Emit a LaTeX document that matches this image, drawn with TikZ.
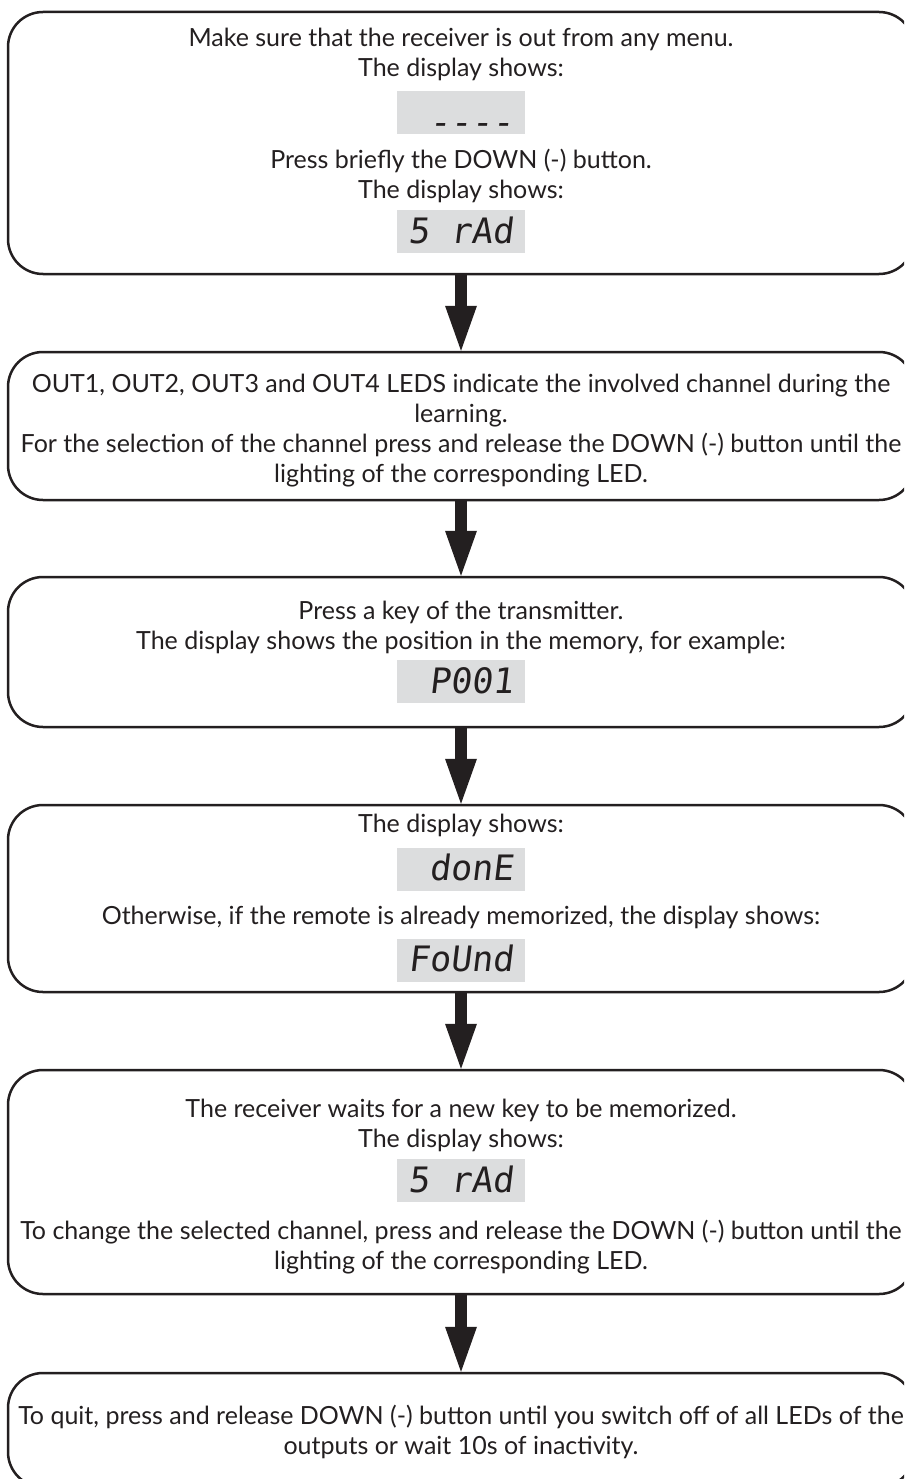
\documentclass[tikz,border=0pt]{standalone}
\usepackage{fontspec}
\setmainfont{Lato}
\newfontfamily\segfont[FakeSlant=0.12]{DejaVu Sans Mono}
\usetikzlibrary{arrows.meta}
\definecolor{ink}{RGB}{35,31,32}
\definecolor{dispgray}{RGB}{220,221,222}
\begin{document}
\begin{tikzpicture}[x=1pt,y=-1pt,
  stepbox/.style={rectangle, draw=ink, line width=2.5pt, rounded corners=35pt, minimum width=906pt, inner sep=0pt},
  txt/.style={anchor=base, inner sep=0pt, text=ink, font=\fontsize{25pt}{30pt}\selectfont},
  disp/.style={rectangle, fill=dispgray, minimum width=128pt, minimum height=43pt, inner sep=0pt},
  seg/.style={anchor=base east, inner sep=0pt, text=ink, font=\segfont\fontsize{35pt}{35pt}\selectfont},
  flow/.style={draw=ink, line width=12pt, -{Triangle[width=32pt,length=45pt,line width=0pt]}}]
\useasboundingbox (0,0) rectangle (904,1479);
\clip (0,0) rectangle (904,1479);

% boxes
\node[stepbox, minimum height=262pt] (b1) at (461,143) {};
\node[stepbox, minimum height=148pt] (b2) at (461,426) {};
\node[stepbox, minimum height=150pt] (b3) at (461,652) {};
\node[stepbox, minimum height=187pt] (b4) at (461,898.5) {};
\node[stepbox, minimum height=224pt] (b5) at (461,1182) {};
\node[stepbox, minimum height=114pt] (b6) at (461,1430) {};

% displays
\node[disp] (d1) at (461,113) {};
\node[disp] (d2) at (461,231.5) {};
\node[disp] (d3) at (461,681.5) {};
\node[disp] (d4) at (461,869) {};
\node[disp] (d5) at (461,960) {};
\node[disp] (d6) at (461,1180.5) {};

\node[seg] (s1) at ([xshift=-11pt,yshift=10pt]d1.south east) {\raisebox{-9.5pt}{----}};
\node[seg] (s2) at ([xshift=-11pt,yshift=10pt]d2.south east) {5 rAd};
\node[seg] (s3) at ([xshift=-11pt,yshift=10pt]d3.south east) {P001};
\node[seg] (s4) at ([xshift=-11pt,yshift=10pt]d4.south east) {donE};
\node[seg] (s5) at ([xshift=-11pt,yshift=10pt]d5.south east) {FoUnd};
\node[seg] (s6) at ([xshift=-11pt,yshift=10pt]d6.south east) {5 rAd};

% texts box 1
\node[txt] (t1a) at (461,47) {Make sure that the receiver is out from any menu.};
\node[txt] (t1b) at (461,77) {The display shows:};
\node[txt] (t1c) at (461,169) {Press briefly the DOWN (-) button.};
\node[txt] (t1d) at (461,199) {The display shows:};
% box 2
\node[txt] (t2a) at (461,392) {OUT1, OUT2, OUT3 and OUT4 LEDS indicate the involved channel during the};
\node[txt] (t2b) at (461,422) {learning.};
\node[txt] (t2c) at (461,452) {For the selection of the channel press and release the DOWN (-) button until the};
\node[txt] (t2d) at (461,482) {lighting of the corresponding LED.};
% box 3
\node[txt] (t3a) at (461,619) {Press a key of the transmitter.};
\node[txt] (t3b) at (461,649) {The display shows the position in the memory, for example:};
% box 4
\node[txt] (t4a) at (461,832) {The display shows:};
\node[txt] (t4b) at (461,924) {Otherwise, if the remote is already memorized, the display shows:};
% box 5
\node[txt] (t5a) at (461,1117) {The receiver waits for a new key to be memorized.};
\node[txt] (t5b) at (461,1147) {The display shows:};
\node[txt] (t5c) at (461,1239) {To change the selected channel, press and release the DOWN (-) button until the};
\node[txt] (t5d) at (461,1269) {lighting of the corresponding LED.};
% box 6
\node[txt] (t6a) at (461,1424) {To quit, press and release DOWN (-) button until you switch off of all LEDs of the};
\node[txt] (t6b) at (461,1454) {outputs or wait 10s of inactivity.};

% arrows
\draw[flow] (b1.south) -- (b2.north);
\draw[flow] (b2.south) -- (b3.north);
\draw[flow] (b3.south) -- (b4.north);
\draw[flow] (b4.south) -- (b5.north);
\draw[flow] (b5.south) -- (b6.north);
\end{tikzpicture}
\end{document}
